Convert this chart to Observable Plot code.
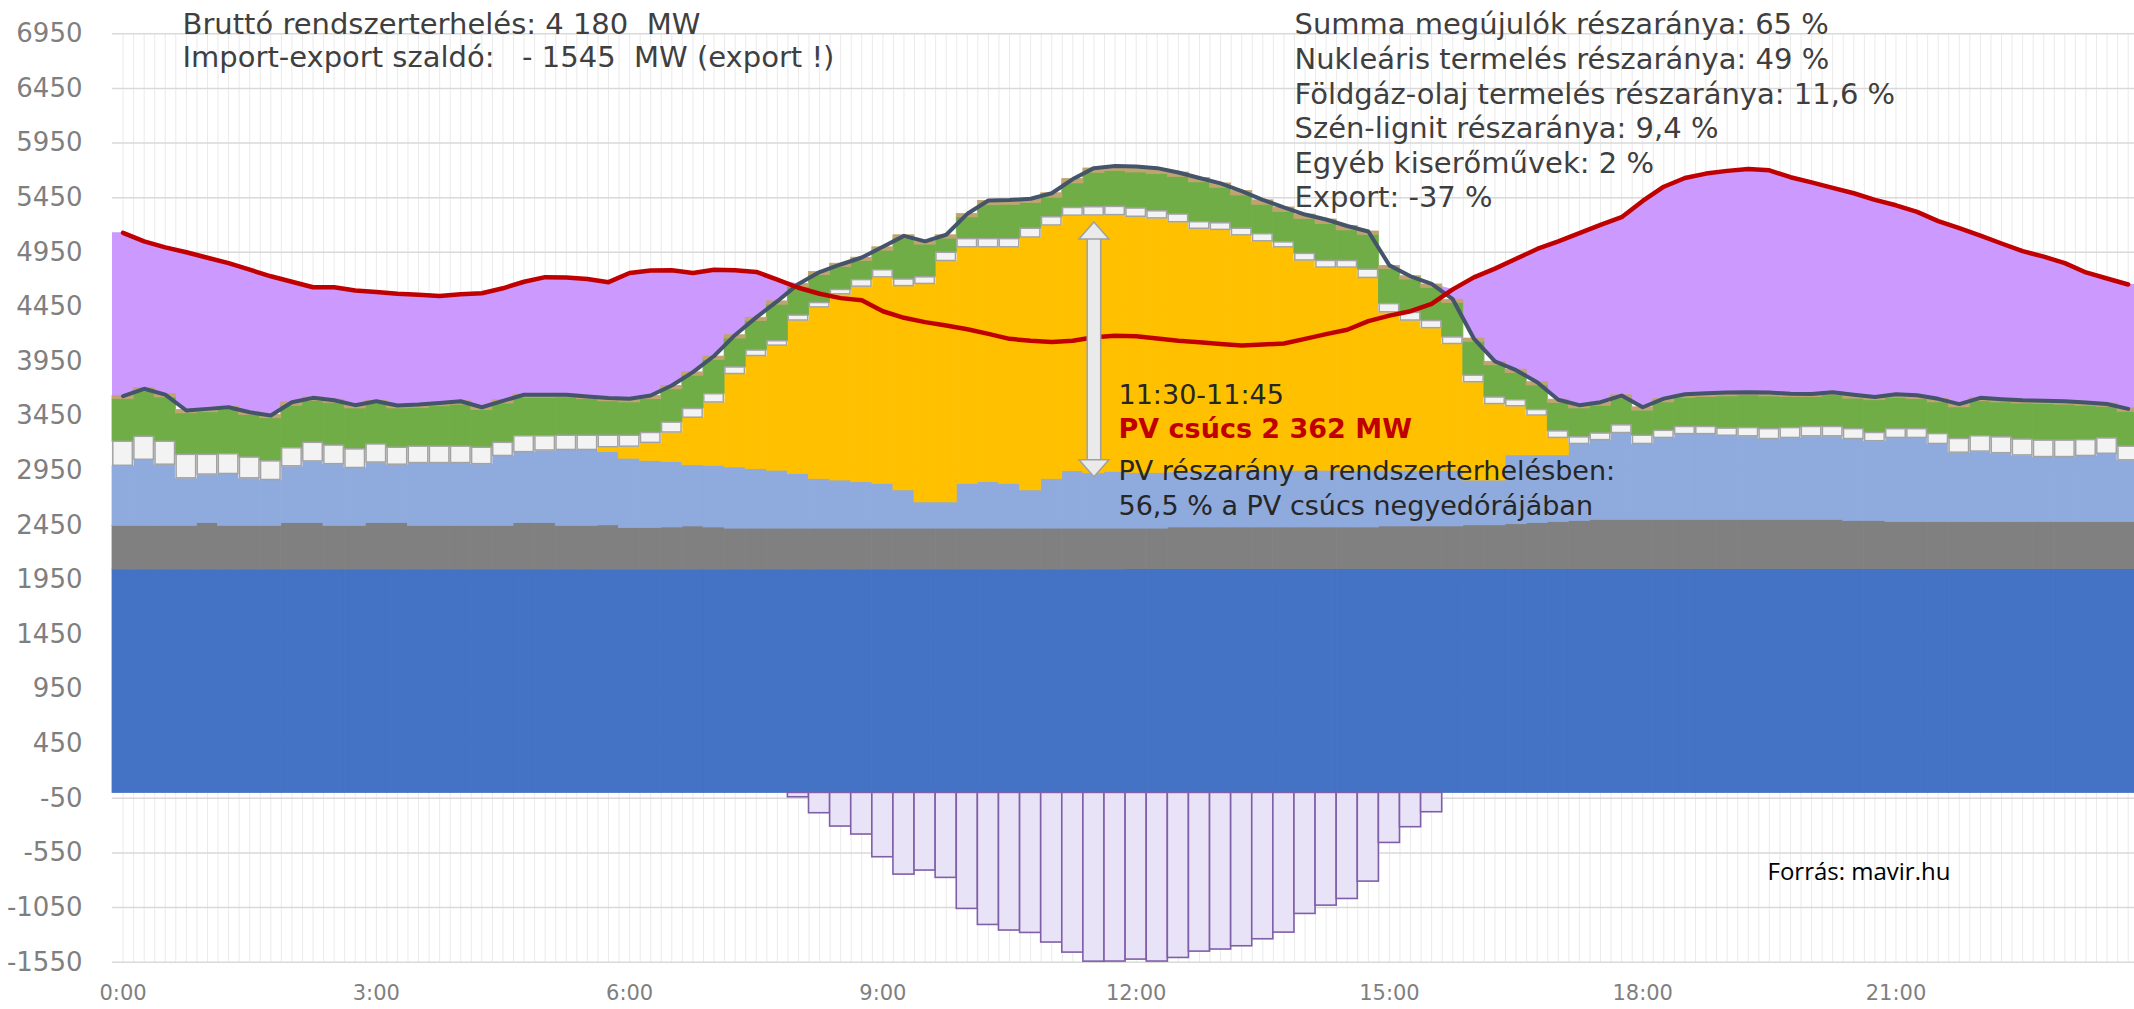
<!DOCTYPE html>
<html>
<head>
<meta charset="utf-8">
<script src="https://cdn.jsdelivr.net/npm/d3@7"></script>
<script src="https://cdn.jsdelivr.net/npm/@observablehq/plot@0.6"></script>
<style>
  html, body { margin: 0; padding: 0; background: #ffffff; overflow: hidden; }
  svg text { white-space: pre; }
</style>
</head>
<body>
<div id="chart"></div>
<script>
// ---- categories: 96 quarter-hours (index 0 = 0:00-0:15) ----
const quarters = d3.range(96);
const xTickLabels = ["0:00", "3:00", "6:00", "9:00", "12:00", "15:00", "18:00", "21:00"];
const xTickPos = [0.5, 12.5, 24.5, 36.5, 48.5, 60.5, 72.5, 84.5];
const yTicks = [-1550, -1050, -550, -50, 450, 950, 1450, 1950, 2450, 2950, 3450, 3950, 4450, 4950, 5450, 5950, 6450, 6950];

// ---- stacked generation layers (MW per quarter hour) ----
const nuclear = [
  2045,2045,2045,2045,2045,2045,2045,2045,2045,2045,2045,2045,2045,2045,2045,2045,2045,2045,2045,2045,2045,2045,2045,2045,
  2045,2045,2045,2045,2045,2045,2045,2045,2045,2045,2045,2045,2045,2045,2045,2045,2045,2045,2045,2045,2045,2045,2045,2045,
  2050,2050,2050,2050,2050,2050,2050,2050,2050,2050,2050,2050,2050,2050,2050,2050,2050,2050,2050,2050,2050,2050,2050,2050,
  2050,2050,2050,2050,2050,2050,2050,2050,2050,2050,2050,2050,2050,2050,2050,2050,2050,2050,2050,2050,2050,2050,2050,2050
];
const coal = [
  400,400,400,400,425,400,400,400,425,425,400,400,425,425,400,400,400,400,400,425,425,400,400,405,
  380,380,385,395,385,375,375,375,375,375,375,375,375,375,375,375,375,375,375,375,375,375,375,375,
  370,370,380,380,380,380,380,380,380,380,380,380,390,390,390,390,400,400,410,420,430,440,450,450,
  450,450,450,450,450,450,450,450,450,450,440,440,430,430,430,430,430,430,430,430,430,430,430,430
];
const gas = [
  550,605,560,435,445,475,435,420,520,565,565,530,555,535,575,575,575,565,640,650,665,695,695,670,
  635,615,600,560,565,560,545,530,500,455,440,425,410,350,240,240,410,425,410,350,455,525,505,520,
  510,510,505,510,515,520,520,520,520,520,520,520,510,510,510,510,410,410,630,620,610,705,730,795,
  695,750,785,785,770,765,740,750,765,765,750,730,770,770,715,635,645,630,610,595,595,605,625,565
];
const pv = [
  0,0,0,0,0,0,0,0,0,0,0,0,0,0,0,0,0,0,0,0,0,0,0,45,
  110,165,270,435,580,855,1035,1145,1405,1570,1705,1790,1890,1870,2000,2210,2165,2150,2165,2315,2320,2340,2362,2350,
  2345,2330,2290,2225,2210,2155,2100,2045,1925,1860,1860,1765,1450,1375,1305,1160,900,700,450,365,160,0,0,0,
  0,0,0,0,0,0,0,0,0,0,0,0,0,0,0,0,0,0,0,0,0,0,0,0
];
const other = [
  220,210,210,215,180,180,190,170,165,170,170,170,165,155,150,150,150,150,120,145,130,130,130,105,
  100,90,90,80,75,60,50,40,45,40,40,60,65,60,60,75,75,75,75,80,75,70,75,75,
  75,65,70,60,60,60,65,45,60,60,60,75,75,70,65,60,60,60,55,50,60,60,60,70,
  75,65,65,65,65,75,90,90,85,85,90,75,80,80,90,125,140,145,145,150,150,145,140,125
];
const wind = [
  390,415,405,380,390,405,390,395,390,385,390,375,370,360,355,370,385,345,360,350,350,350,335,315,
  305,310,305,305,315,265,270,335,260,255,210,175,180,375,300,130,200,310,315,235,180,225,315,330,
  330,340,345,365,325,305,270,280,320,340,280,320,320,305,305,315,310,295,250,225,260,265,255,245,
  230,260,265,275,295,300,300,285,275,290,280,300,285,275,290,290,320,320,330,335,330,315,290,320
];
const hydroBio = [
  30,30,30,30,30,30,30,30,30,30,30,30,30,30,30,30,30,30,30,30,30,30,30,30,
  30,30,30,30,30,30,30,30,30,30,30,30,30,30,30,30,30,40,40,40,40,40,40,40,
  40,40,40,40,40,40,40,40,40,40,40,30,30,30,30,30,30,30,30,30,30,30,30,30,
  30,30,30,30,30,30,30,30,30,30,30,30,30,30,30,30,30,30,30,30,30,30,30,30
];

// ---- lines ----
const totalGen = [
  3632,3700,3647,3501,3516,3531,3485,3455,3577,3617,3595,3550,3586,3547,3556,3570,3586,3531,3590,3645,3645,3645,3629,3615,
  3608,3638,3730,3852,4000,4193,4354,4502,4660,4769,4838,4902,5000,5100,5050,5110,5302,5424,5428,5440,5490,5620,5720,5740,
  5735,5720,5680,5630,5580,5510,5430,5360,5295,5250,5190,5140,4830,4730,4661,4520,4160,3950,3870,3760,3600,3550,3577,3638,
  3531,3610,3650,3660,3665,3669,3665,3655,3653,3669,3645,3625,3650,3640,3608,3560,3617,3605,3595,3590,3585,3575,3560,3516
];
const load = [
  5128,5050,4995,4950,4900,4850,4790,4730,4680,4630,4630,4600,4585,4570,4560,4550,4565,4575,4620,4680,4722,4718,4705,4676,
  4760,4783,4785,4760,4790,4785,4770,4700,4625,4570,4530,4510,4410,4350,4310,4280,4245,4203,4157,4140,4128,4140,4172,4185,
  4180,4160,4140,4127,4110,4096,4105,4115,4157,4200,4240,4320,4370,4410,4478,4610,4720,4800,4890,4980,5050,5125,5200,5271,
  5420,5550,5630,5670,5695,5712,5700,5637,5590,5540,5490,5430,5380,5320,5235,5170,5103,5030,4960,4910,4850,4765,4710,4655
];
// ---- import-export balance bars (negative = export) ----
const exportBal = [
  0,0,0,0,0,0,0,0,0,0,0,0,0,0,0,0,0,0,0,0,0,0,0,0,
  0,0,0,0,0,0,0,0,-40,-186,-308,-381,-589,-748,-711,-778,-1062,-1209,-1260,-1282,-1370,-1462,-1545,-1544,
  -1526,-1544,-1511,-1453,-1434,-1404,-1340,-1279,-1108,-1032,-971,-812,-458,-314,-177,0,0,0,0,0,0,0,0,0,
  0,0,0,0,0,0,0,0,0,0,0,0,0,0,0,0,0,0,0,0,0,0,0,0
];

// ---- texts ----
const headerLeft = ["Bruttó rendszerterhelés: 4 180  MW", "Import-export szaldó:   - 1545  MW (export !)"];
const headerRight = [
  "Summa megújulók részaránya: 65 %",
  "Nukleáris termelés részaránya: 49 %",
  "Földgáz-olaj termelés részaránya: 11,6 %",
  "Szén-lignit részaránya: 9,4 %",
  "Egyéb kiserőművek: 2 %",
  "Export: -37 %"
];
const annoTime = "11:30-11:45";
const annoPeak = "PV csúcs 2 362 MW";
const annoShare = ["PV részarány a rendszerterhelésben:", "56,5 % a PV csúcs negyedórájában"];
const sourceText = "Forrás: mavir.hu";

// ---- build tables for Plot ----
const series = [
  {name: "Atomerőmű", values: nuclear, color: "#4472C4"},
  {name: "Szén-lignit", values: coal, color: "#808080"},
  {name: "Földgáz-olaj", values: gas, color: "#8FAADC"},
  {name: "Naperőmű (PV)", values: pv, color: "#FFC000"},
  {name: "Egyéb kiserőművek", values: other, color: "#F3F3F3"},
  {name: "Szél, biomassza", values: wind, color: "#70AD47"},
  {name: "Víz", values: hydroBio, color: "#BFA46F"}
];
const stackRows = series.flatMap(s => s.values.map((v, q) => ({q, name: s.name, value: v, color: s.color})));
const isBox = d => d.name === "Egyéb kiserőművek";

const lineRows = quarters.map(q => ({x: q + 0.5, total: totalGen[q], load: load[q]}));
const areaRows = [{x: 0, total: totalGen[0], load: load[0]}, ...lineRows, {x: 96, total: totalGen[95], load: load[95]}];
const exportRows = quarters.filter(q => exportBal[q] < 0).map(q => ({q, value: exportBal[q]}));

const peakQ = 46;
const pvBase = nuclear[peakQ] + coal[peakQ] + gas[peakQ];
const pvTop = pvBase + pv[peakQ];
const arrow = [{x: peakQ + 0.5, from: pvBase - 30, to: pvTop - 60}];

const headUp = {draw(ctx) { ctx.moveTo(0, 0); ctx.lineTo(15, 17); ctx.lineTo(-15, 17); ctx.closePath(); }};
const headDown = {draw(ctx) { ctx.moveTo(0, 0); ctx.lineTo(15, -17); ctx.lineTo(-15, -17); ctx.closePath(); }};

const vGrid = d3.range(0.5, 96, 0.5);

const chart = Plot.plot({
  width: 2134,
  height: 1009,
  marginLeft: 112,
  marginRight: 0,
  marginTop: 33.3,
  marginBottom: 47.3,
  x: {domain: [0, 95.8]},
  y: {domain: [-1550, 6950]},
  color: {type: "identity"},
  style: {fontFamily: "DejaVu Sans", background: "#ffffff", overflow: "hidden"},
  marks: [
    Plot.gridX(vGrid, {stroke: "#EAEAEA", strokeOpacity: 1, strokeWidth: 1}),
    Plot.gridY(yTicks, {stroke: "#D9D9D9", strokeOpacity: 1, strokeWidth: 1.5}),
    Plot.areaY(areaRows, {x: "x", y1: "total", y2: d => Math.max(d.total, d.load), fill: "#CC99FF"}),
    Plot.rectY(stackRows, Plot.stackY({x: "q", x1: "q", x2: d => d.q + 1, y: "value", fill: "color", stroke: "color", strokeWidth: 0.8})),
    Plot.rectY(stackRows, Plot.stackY({
      x: "q", x1: "q", x2: d => d.q + 1, y: "value",
      fill: d => isBox(d) ? "#F3F3F3" : "none",
      stroke: d => isBox(d) ? "#A3A3A3" : "none",
      strokeWidth: 1.5, insetLeft: 0.8, insetRight: 0.8
    })),
    Plot.rectY(exportRows, {x1: "q", x2: d => d.q + 1, y: "value", fill: "#E9E3F8", stroke: "#7F5FA8", strokeWidth: 1.6}),
    Plot.line(lineRows, {x: "x", y: "total", stroke: "#44546A", strokeWidth: 4}),
    Plot.line(lineRows, {x: "x", y: "load", stroke: "#C00000", strokeWidth: 4.5}),
    Plot.link(arrow, {x1: "x", x2: "x", y1: d => d.from + 120, y2: d => d.to - 120, stroke: "#A0A0A0", strokeWidth: 15}),
    Plot.link(arrow, {x1: "x", x2: "x", y1: d => d.from + 100, y2: d => d.to - 100, stroke: "#EAEAEA", strokeWidth: 12}),
    Plot.dot(arrow, {x: "x", y: "to", symbol: headUp, fill: "#EAEAEA", stroke: "#A0A0A0", strokeWidth: 1.5}),
    Plot.dot(arrow, {x: "x", y: "from", symbol: headDown, fill: "#EAEAEA", stroke: "#A0A0A0", strokeWidth: 1.5}),
    Plot.axisY(yTicks, {tickSize: 0, tickPadding: 30, fontSize: 26, color: "#7F7F7F", tickFormat: d => String(d), label: null}),
    Plot.axisX(xTickPos, {tickSize: 0, tickPadding: 23, fontSize: 21, color: "#7F7F7F", tickFormat: d => xTickLabels[xTickPos.indexOf(d)], label: null}),
    Plot.text([headerLeft.join("\n")], {text: d => d, frameAnchor: "top-left", dx: 70, dy: -23.9, textAnchor: "start", lineAnchor: "top", lineHeight: 1.148, fontSize: 29, fill: "#3F3F3F"}),
    Plot.text([headerRight.join("\n")], {text: d => d, frameAnchor: "top-left", dx: 1182, dy: -23.9, textAnchor: "start", lineAnchor: "top", lineHeight: 1.193, fontSize: 29, fill: "#3F3F3F"}),
    Plot.text([annoTime], {text: d => d, frameAnchor: "top-left", dx: 1006, dy: 351.5, textAnchor: "start", lineAnchor: "top", fontSize: 27, fill: "#262626"}),
    Plot.text([annoPeak], {text: d => d, frameAnchor: "top-left", dx: 1006, dy: 385.5, textAnchor: "start", lineAnchor: "top", fontSize: 27, fontWeight: "bold", fill: "#C00000"}),
    Plot.text([annoShare.join("\n")], {text: d => d, frameAnchor: "top-left", dx: 1006, dy: 421.5, textAnchor: "start", lineAnchor: "top", lineHeight: 1.296, fontSize: 27, fill: "#262626"}),
    Plot.text([sourceText], {text: d => d, frameAnchor: "top-left", dx: 1655, dy: 828.7, textAnchor: "start", lineAnchor: "top", fontSize: 24, fontFamily: "Open Sans", fill: "#000000"})
  ]
});
document.getElementById("chart").appendChild(chart);
</script>
</body>
</html>
